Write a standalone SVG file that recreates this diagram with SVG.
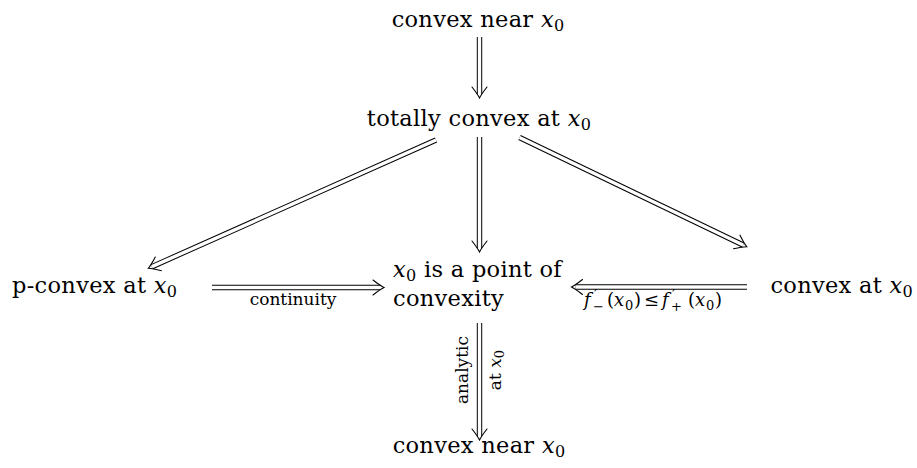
<svg xmlns="http://www.w3.org/2000/svg" width="917" height="468" viewBox="0 0 917 468" font-family="'DejaVu Serif', 'Liberation Serif', serif">
<defs>
<style>
text { fill: #000; }
.n { font-size: 22.5px; letter-spacing: 0.3px; }
.l { font-size: 17px; }
.m { font-size: 18px; }
.i { font-style: italic; }
.sb { font-size: 16px; }
.ss { font-size: 13px; }
.pr { font-size: 15px; }
.o { stroke: #000; stroke-width: 5.4; fill: none; }
.w { stroke: #fff; stroke-width: 3.4; fill: none; }
</style>
<path id="hd" d="M-11,-7.5 Q-4,-2 0,0 Q-4,2 -11,7.5" stroke="#000" stroke-width="1.1" fill="none" stroke-linecap="round"/>
</defs>
<rect width="917" height="468" fill="#fff"/>

<g id="connectors">
  <g id="e1">
    <path class="o" d="M479.5,37V94"/><path class="w" d="M479.5,37V94"/>
    <use href="#hd" transform="translate(479.5,98) rotate(90)"/>
  </g>
  <g id="e2">
    <path class="o" d="M479.5,137V248"/><path class="w" d="M479.5,137V248"/>
    <use href="#hd" transform="translate(479.5,252) rotate(90)"/>
  </g>
  <g id="e3">
    <path class="o" d="M436,140L151.95,266.67"/><path class="w" d="M436,140L151.95,266.67"/>
    <use href="#hd" transform="translate(148.3,268.3) rotate(155.97)"/>
  </g>
  <g id="e4">
    <path class="o" d="M519.5,137.5L743.1,244.97"/><path class="w" d="M519.5,137.5L743.1,244.97"/>
    <use href="#hd" transform="translate(746.7,246.7) rotate(25.67)"/>
  </g>
  <g id="e5">
    <path class="o" d="M212,287.5H380"/><path class="w" d="M212,287.5H380"/>
    <use href="#hd" transform="translate(384,287.5)"/>
    <text class="l" x="293" y="305" text-anchor="middle">continuity</text>
  </g>
  <g id="e6">
    <path class="o" d="M747,287H575.5"/><path class="w" d="M747,287H575.5"/>
    <use href="#hd" transform="translate(571.5,287) rotate(180)"/>
    <text class="m"><tspan class="i" x="584" y="306">f</tspan><tspan class="pr" x="594" y="300">′</tspan><tspan class="ss" x="593" y="311">−</tspan><tspan x="607" y="306">(</tspan><tspan class="i" x="614" y="306">x</tspan><tspan class="ss" x="625" y="310">0</tspan><tspan x="634" y="306">)</tspan><tspan x="644" y="306">≤</tspan><tspan class="i" x="662" y="306">f</tspan><tspan class="pr" x="672" y="300">′</tspan><tspan class="ss" x="671" y="311">+</tspan><tspan x="688" y="306">(</tspan><tspan class="i" x="695" y="306">x</tspan><tspan class="ss" x="706" y="310">0</tspan><tspan x="715" y="306">)</tspan></text>
  </g>
  <g id="e7">
    <path class="o" d="M479.5,323V436"/><path class="w" d="M479.5,323V436"/>
    <use href="#hd" transform="translate(479.5,440) rotate(90)"/>
    <text class="l" text-anchor="middle" transform="translate(468,370) rotate(-90)">analytic</text>
    <text class="l" text-anchor="middle" transform="translate(501,370) rotate(-90)">at <tspan class="i">x</tspan><tspan class="ss" dy="3">0</tspan></text>
  </g>
</g>

<g id="n-top">
  <text class="n" x="478" y="27" text-anchor="middle">convex near <tspan class="i">x</tspan><tspan class="sb" dy="4">0</tspan></text>
</g>
<g id="n-total">
  <text class="n" x="479" y="126" text-anchor="middle">totally convex at <tspan class="i">x</tspan><tspan class="sb" dy="4">0</tspan></text>
</g>
<g id="n-mid">
  <text class="n" x="393" y="277"><tspan class="i">x</tspan><tspan class="sb" dy="4">0</tspan><tspan dy="-4"> is a point of</tspan></text>
  <text class="n" x="393" y="306">convexity</text>
</g>
<g id="n-left">
  <text class="n" x="12" y="293">p-convex at <tspan class="i">x</tspan><tspan class="sb" dy="4">0</tspan></text>
</g>
<g id="n-right">
  <text class="n" x="913" y="293" text-anchor="end">convex at <tspan class="i">x</tspan><tspan class="sb" dy="4">0</tspan></text>
</g>
<g id="n-bottom">
  <text class="n" x="479" y="453" text-anchor="middle">convex near <tspan class="i">x</tspan><tspan class="sb" dy="4">0</tspan></text>
</g>
</svg>
